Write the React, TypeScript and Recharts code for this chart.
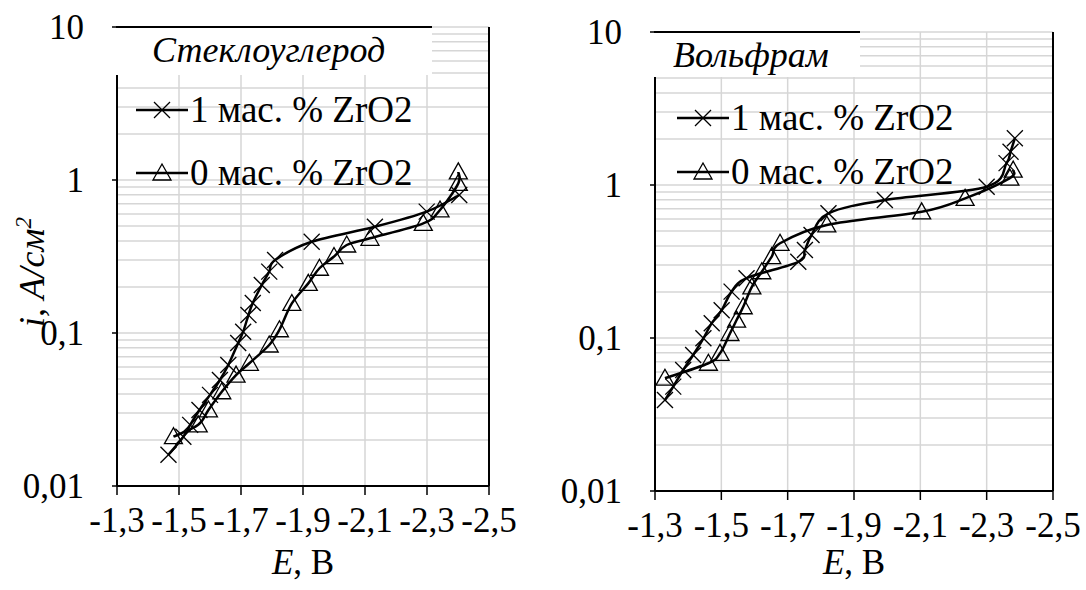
import { LineChart, Line, XAxis, YAxis, CartesianGrid, ReferenceLine } from 'recharts'

const FONT = "'Liberation Serif', 'DejaVu Serif', serif"

const xTicks = [-1.3, -1.5, -1.7, -1.9, -2.1, -2.3, -2.5]
const yTicks = [0.01, 0.1, 1, 10]
const yGrid = [
  0.01, 0.02, 0.03, 0.04, 0.05, 0.06, 0.07, 0.08, 0.09,
  0.1, 0.2, 0.3, 0.4, 0.5, 0.6, 0.7, 0.8, 0.9,
  1, 2, 3, 4, 5, 6, 7, 8, 9, 10,
]

const legendNames = ['1 мас. % ZrO2', '0 мас. % ZrO2']

// Стеклоуглерод
const glassCrossE = [-1.466, -1.514, -1.536, -1.566, -1.6, -1.632, -1.659, -1.691, -1.707, -1.724, -1.738, -1.767, -1.791, -1.81, -1.928, -2.132, -2.299, -2.404]
const glassCrossI = [0.016, 0.021, 0.0251, 0.0314, 0.0394, 0.0493, 0.0618, 0.0861, 0.102, 0.131, 0.157, 0.206, 0.252, 0.3, 0.395, 0.495, 0.621, 0.798]
const glassTriE = [-1.482, -1.562, -1.595, -1.638, -1.684, -1.727, -1.791, -1.824, -1.864, -1.917, -1.953, -2.0, -2.041, -2.116, -2.288, -2.342, -2.401, -2.401]
const glassTriI = [0.021, 0.0251, 0.0314, 0.0413, 0.0531, 0.0634, 0.0835, 0.105, 0.156, 0.211, 0.265, 0.316, 0.376, 0.416, 0.521, 0.637, 0.95, 1.13]

// Вольфрам
const wCrossE = [-1.33, -1.355, -1.385, -1.415, -1.446, -1.471, -1.501, -1.531, -1.576, -1.732, -1.752, -1.772, -1.823, -1.993, -2.3, -2.36, -2.372, -2.385]
const wCrossI = [0.0393, 0.0481, 0.0618, 0.0774, 0.0995, 0.125, 0.152, 0.201, 0.246, 0.315, 0.376, 0.471, 0.653, 0.798, 0.975, 1.39, 1.65, 2.02]
const wTriE = [-1.33, -1.461, -1.496, -1.526, -1.546, -1.566, -1.592, -1.622, -1.652, -1.677, -1.818, -2.104, -2.235, -2.37, -2.38]
const wTriI = [0.0546, 0.0684, 0.0794, 0.107, 0.131, 0.16, 0.216, 0.271, 0.34, 0.416, 0.548, 0.668, 0.818, 1.11, 1.25]

const zip = (es: number[], is: number[]) => es.map((E, k) => ({ E, i: is[k] }))

// Excel-like smoothed line (Catmull-Rom through every point)
const smoothCurve = (context: any) => {
  let pts: number[][] = []
  return {
    areaStart() {},
    areaEnd() {},
    lineStart() {
      pts = []
    },
    point(x: number, y: number) {
      pts.push([+x, +y])
    },
    lineEnd() {
      if (!pts.length) return
      context.moveTo(pts[0][0], pts[0][1])
      for (let k = 0; k < pts.length - 1; k++) {
        const p0 = pts[k - 1] || pts[k]
        const p1 = pts[k]
        const p2 = pts[k + 1]
        const p3 = pts[k + 2] || p2
        context.bezierCurveTo(
          p1[0] + (p2[0] - p0[0]) / 6,
          p1[1] + (p2[1] - p0[1]) / 6,
          p2[0] - (p3[0] - p1[0]) / 6,
          p2[1] - (p3[1] - p1[1]) / 6,
          p2[0],
          p2[1],
        )
      }
    },
  }
}

const CrossDot = (props: any) => {
  const { cx, cy } = props
  if (cx == null || cy == null) return <g />
  return (
    <g>
      <line x1={cx - 8} y1={cy - 8} x2={cx + 8} y2={cy + 8} stroke="#000" strokeWidth={1.3} />
      <line x1={cx - 8} y1={cy + 8} x2={cx + 8} y2={cy - 8} stroke="#000" strokeWidth={1.3} />
    </g>
  )
}

const TriDot = (props: any) => {
  const { cx, cy } = props
  if (cx == null || cy == null) return <g />
  return (
    <polygon
      points={`${cx},${cy - 9} ${cx - 9},${cy + 7} ${cx + 9},${cy + 7}`}
      fill="none"
      stroke="#000"
      strokeWidth={1.3}
    />
  )
}

const fmtX = (v: number) => v.toFixed(1).replace('.', ',')
const fmtY = (v: number) => String(v).replace('.', ',')

type PanelProps = {
  left: number
  width: number
  margin: { top: number; right: number; bottom: number; left: number }
  title: string
  titleBox: { left: number; top: number; width: number; height: number; textLeft: number }
  legend: { left: number; rows: number[] }
  xLabelCenter: number
  crossData: { E: number; i: number }[]
  triData: { E: number; i: number }[]
  yLabel?: boolean
}

function Panel(p: PanelProps) {
  return (
    <div style={{ position: 'absolute', left: p.left, top: 0, width: p.width, height: 590 }}>
      <LineChart width={p.width} height={590} margin={p.margin}>
        <CartesianGrid stroke="#d6d6d6" strokeWidth={1.5} horizontalValues={yGrid} />
        <XAxis
          type="number"
          dataKey="E"
          domain={[-2.5, -1.3]}
          reversed
          ticks={xTicks}
          interval={0}
          allowDataOverflow
          tickFormatter={fmtX}
          height={60}
          tickSize={9}
          tickMargin={12}
          axisLine={{ stroke: '#000', strokeWidth: 2 }}
          tickLine={{ stroke: '#000', strokeWidth: 1.5 }}
          tick={{ fontSize: 35, fill: '#000', fontFamily: FONT }}
        />
        <YAxis
          type="number"
          dataKey="i"
          scale="log"
          domain={[0.01, 10]}
          ticks={yTicks}
          interval={0}
          allowDataOverflow
          tickFormatter={fmtY}
          width={60}
          tickSize={5}
          tickMargin={28}
          axisLine={{ stroke: '#000', strokeWidth: 2 }}
          tickLine={{ stroke: '#000', strokeWidth: 1.5 }}
          tick={{ fontSize: 35, fill: '#000', fontFamily: FONT }}
        />
        <ReferenceLine x={-2.5} stroke="#000" strokeWidth={2} />
        <Line
          data={p.crossData}
          dataKey="i"
          type={smoothCurve as any}
          stroke="#000"
          strokeWidth={2.5}
          dot={CrossDot}
          activeDot={false}
          isAnimationActive={false}
        />
        <Line
          data={p.triData}
          dataKey="i"
          type={smoothCurve as any}
          stroke="#000"
          strokeWidth={2.5}
          dot={TriDot}
          activeDot={false}
          isAnimationActive={false}
        />
      </LineChart>

      <div
        style={{
          position: 'absolute',
          left: p.titleBox.left,
          top: p.titleBox.top,
          width: p.titleBox.width,
          height: p.titleBox.height,
          background: '#fff',
          borderTop: '2px solid #000',
        }}
      >
        <span
          style={{
            position: 'absolute',
            left: p.titleBox.textLeft,
            top: 2,
            fontFamily: FONT,
            fontStyle: 'italic',
            fontSize: 36,
            lineHeight: '40px',
            whiteSpace: 'nowrap',
          }}
        >
          {p.title}
        </span>
      </div>

      {p.legend.rows.map((y, k) => (
        <div
          key={k}
          style={{ position: 'absolute', left: p.legend.left, top: y - 20, height: 40, display: 'flex', alignItems: 'center' }}
        >
          <svg width={54} height={40}>
            <line x1={0} y1={20} x2={52} y2={20} stroke="#000" strokeWidth={2.5} />
            {k === 0 ? <CrossDot cx={26} cy={20} /> : <TriDot cx={26} cy={20} />}
          </svg>
          <span style={{ fontFamily: FONT, fontSize: 37, lineHeight: '40px', whiteSpace: 'nowrap' }}>
            {legendNames[k]}
          </span>
        </div>
      ))}

      <div
        style={{
          position: 'absolute',
          left: p.xLabelCenter - 100,
          width: 200,
          top: 543,
          textAlign: 'center',
          fontFamily: FONT,
          fontSize: 35,
          lineHeight: '40px',
        }}
      >
        <i>E</i>, В
      </div>

      {p.yLabel && (
        <div
          style={{
            position: 'absolute',
            left: 32 - 100,
            top: 272 - 20,
            width: 200,
            height: 40,
            textAlign: 'center',
            transform: 'rotate(-90deg)',
            fontFamily: FONT,
            fontStyle: 'italic',
            fontSize: 36,
            lineHeight: '40px',
            whiteSpace: 'nowrap',
          }}
        >
          i, A/см<sup style={{ fontSize: 23, lineHeight: 0 }}>2</sup>
        </div>
      )}
    </div>
  )
}

export default function App() {
  return (
    <div style={{ position: 'absolute', left: 0, top: 0, width: 1086, height: 590, background: '#fff' }}>
      <Panel
        left={0}
        width={540}
        margin={{ top: 27, right: 51, bottom: 44, left: 57 }}
        title="Стеклоуглерод"
        titleBox={{ left: 116, top: 26, width: 316, height: 47, textLeft: 36 }}
        legend={{ left: 136, rows: [110, 173] }}
        xLabelCenter={303}
        crossData={zip(glassCrossE, glassCrossI)}
        triData={zip(glassTriE, glassTriI)}
        yLabel
      />
      <Panel
        left={540}
        width={546}
        margin={{ top: 32, right: 33, bottom: 39, left: 55 }}
        title="Вольфрам"
        titleBox={{ left: 114, top: 31, width: 206, height: 44, textLeft: 19 }}
        legend={{ left: 137, rows: [118, 172] }}
        xLabelCenter={314}
        crossData={zip(wCrossE, wCrossI)}
        triData={zip(wTriE, wTriI)}
      />
    </div>
  )
}
